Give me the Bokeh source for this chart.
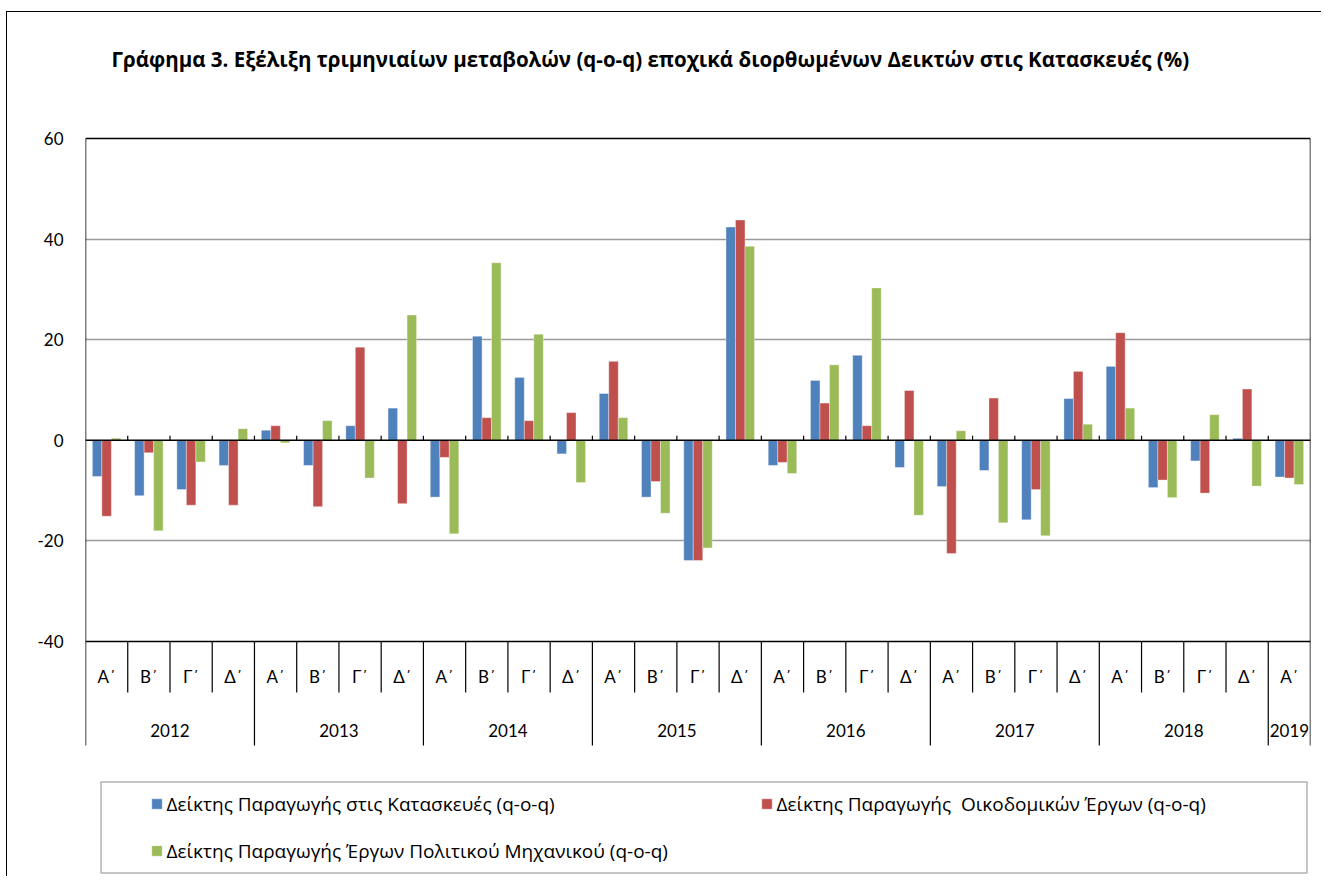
from bokeh.plotting import figure
from bokeh.models import (ColumnDataSource, Range1d, FixedTicker, Span, Legend,
                          LegendItem, BoxAnnotation, Label)
from bokeh.transform import dodge
from bokeh.core.properties import value
from bokeh.embed import file_html
from bokeh.resources import INLINE

# ---------------- data ----------------
years = ["2012", "2013", "2014", "2015", "2016", "2017", "2018", "2019"]
quarters_per_year = [4, 4, 4, 4, 4, 4, 4, 1]
quarter_names = ["Α΄", "Β΄", "Γ΄", "Δ΄"]

construction = [-7.2, -11.0, -9.8, -5.0,
                2.0, -5.0, 2.9, 6.4,
                -11.3, 20.7, 12.5, -2.7,
                9.3, -11.3, -23.9, 42.4,
                -5.0, 11.9, 16.9, -5.4,
                -9.2, -6.0, -15.8, 8.3,
                14.7, -9.4, -4.1, 0.4,
                -7.3]
building = [-15.1, -2.5, -12.9, -12.9,
            2.9, -13.2, 18.5, -12.6,
            -3.4, 4.5, 3.9, 5.5,
            15.7, -8.2, -23.9, 43.8,
            -4.4, 7.4, 2.9, 9.9,
            -22.5, 8.4, -9.8, 13.7,
            21.4, -7.9, -10.5, 10.2,
            -7.5]
civil = [0.4, -18.0, -4.3, 2.3,
         -0.5, 3.9, -7.5, 24.9,
         -18.6, 35.3, 21.1, -8.4,
         4.5, -14.5, -21.4, 38.6,
         -6.6, 15.0, 30.3, -14.9,
         1.9, -16.4, -19.0, 3.2,
         6.4, -11.4, 5.1, -9.1,
         -8.8]

series_names = ["Δείκτης Παραγωγής στις Κατασκευές (q-o-q)",
                "Δείκτης Παραγωγής  Οικοδομικών Έργων (q-o-q)",
                "Δείκτης Παραγωγής Έργων Πολιτικού Μηχανικού (q-o-q)"]
colors = ["#4F81BD", "#C0504D", "#9BBB59"]
title_text = ("Γράφημα 3. Εξέλιξη τριμηνιαίων μεταβολών (q-o-q) εποχικά "
              "διορθωμένων Δεικτών  στις Κατασκευές (%)")
y_ticks = [-40, -20, 0, 20, 40, 60]
y_tick_labels = ["-40", "-20", "0", "20", "40", "60"]

# ---------------- derived ----------------
n = len(construction)
centers = [i + 0.5 for i in range(n)]
q_labels = [quarter_names[q] for c in quarters_per_year for q in range(c)]
year_bounds = []
acc = 0
for c in quarters_per_year:
    acc += c
    year_bounds.append(acc)
year_starts = [0] + year_bounds[:-1]
year_centers = [(s + e) / 2 for s, e in zip(year_starts, year_bounds)]
quarter_seps = [b for b in range(1, n) if b not in year_bounds]
year_seps = [b for b in year_bounds if b < n]

FONT = "Lato"
TFONT = "Open Sans"
Y_MIN, Y_MAX = -40, 60
Y_BOTTOM = -60.68      # bottom of the category table
Y_QROW = -50.14        # bottom of the quarter row
Y_QTEXT = -47.0
Y_YTEXT = -57.7
Y_FRAME_BOTTOM = -86.92
Y_FRAME_TOP = 85.05

src = ColumnDataSource(dict(x=centers, construction=construction,
                            building=building, civil=civil))

p = figure(width=1315, height=865,
           x_range=Range1d(0, n), y_range=Range1d(Y_FRAME_BOTTOM, Y_FRAME_TOP),
           output_backend="svg", toolbar_location=None,
           x_axis_location=None,
           min_border_left=78, min_border_right=12,
           min_border_top=0, min_border_bottom=0)
p.outline_line_color = None
p.background_fill_color = "white"
p.border_fill_color = "white"
p.styles = {"margin-left": "6px", "margin-top": "11px",
            "border-left": "1.5px solid black",
            "border-top": "1.5px solid black"}

# title
p.add_layout(Label(x=644.5, y=45.5, x_units="canvas", y_units="canvas",
                   text=title_text, text_align="center",
                   text_baseline="middle", text_font=TFONT,
                   text_font_size="20.5px", text_font_style="bold",
                   text_color="black"))

# y axis
ax = p.yaxis[0]
ax.ticker = FixedTicker(ticks=y_ticks)
ax.major_label_overrides = {t: s for t, s in zip(y_ticks, y_tick_labels)}
ax.major_tick_in = 0
ax.major_tick_out = 0
ax.minor_tick_in = 0
ax.minor_tick_out = 0
ax.major_label_standoff = 22
ax.axis_line_color = None
ax.major_label_text_font = FONT
ax.major_label_text_font_size = "17px"
ax.major_label_text_color = "black"

p.xgrid.visible = False
p.ygrid.ticker = FixedTicker(ticks=[-20, 20, 40])
p.ygrid.grid_line_color = "#9a9a9a"
p.ygrid.grid_line_width = 1.5

# bars
w = 0.225
offsets = [-w, 0.0, w]
fields = ["construction", "building", "civil"]
renderers = []
for f, off, col in zip(fields, offsets, colors):
    r = p.vbar(x=dodge("x", off, range=p.x_range), top=f, bottom=0, width=w,
               source=src, fill_color=col, line_color="white", line_width=0.6,
               line_alpha=0.6)
    renderers.append(r)

# plot-area frame lines
for loc in [Y_MAX, 0, Y_MIN]:
    p.add_layout(Span(location=loc, dimension="width", line_color="black",
                      line_width=1.5))
p.segment(x0=[0, n], y0=[Y_BOTTOM, Y_BOTTOM], x1=[0, n], y1=[Y_MAX, Y_MAX],
          line_color="black", line_width=1.5)

# small ticks on zero line
tick_x = list(range(1, n))
p.segment(x0=tick_x, y0=[0] * len(tick_x), x1=tick_x, y1=[0.9] * len(tick_x),
          line_color="black", line_width=1.2)

# category table
p.segment(x0=quarter_seps, y0=[Y_MIN] * len(quarter_seps), x1=quarter_seps,
          y1=[Y_QROW] * len(quarter_seps), line_color="black", line_width=1.2)
p.segment(x0=year_seps, y0=[Y_MIN] * len(year_seps), x1=year_seps,
          y1=[Y_BOTTOM] * len(year_seps), line_color="black", line_width=1.2)
p.text(x=centers, y=[Y_QTEXT] * n, text=q_labels, text_align="center",
       text_baseline="middle", text_font=value(FONT), text_font_size="17px",
       text_color="black")
p.text(x=year_centers, y=[Y_YTEXT] * len(years), text=years,
       text_align="center", text_baseline="middle", text_font=value(FONT),
       text_font_size="17px", text_color="black")

# legend
items = [LegendItem(label=nm, renderers=[r]) for nm, r in zip(series_names, renderers)]
legend = Legend(items=items, orientation="horizontal", ncols=2,
                location=(64.5, 13.5), padding=0, margin=0, spacing=21,
                glyph_width=13, glyph_height=13, label_height=22,
                label_standoff=4, label_width=572,
                label_text_font=TFONT, label_text_font_size="19px",
                label_text_color="black",
                border_line_color=None, background_fill_alpha=0)
p.add_layout(legend, "center")

# legend box (canvas pixels)
p.add_layout(BoxAnnotation(left=92.5, right=1298.5, top=768.5, bottom=859.5,
                           left_units="canvas", right_units="canvas",
                           top_units="canvas", bottom_units="canvas",
                           fill_alpha=0, line_color="black", line_width=1.5))

open("out.html", "w").write(file_html(p, INLINE))
